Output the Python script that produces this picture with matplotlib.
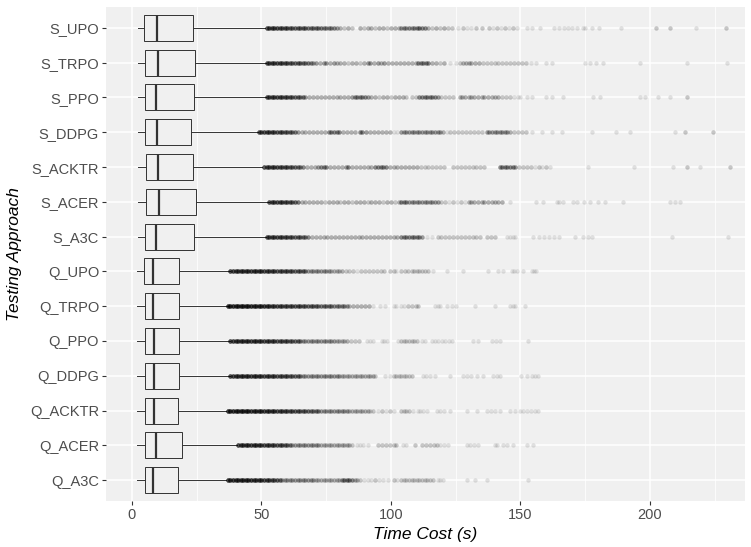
import numpy as np
import matplotlib
matplotlib.use("Agg")
import matplotlib.pyplot as plt

plt.rcParams['font.family'] = ['Liberation Sans', 'DejaVu Sans']

# Categories, bottom to top
APPROACHES = ["Q_A3C", "Q_ACER", "Q_ACKTR", "Q_DDPG", "Q_PPO", "Q_TRPO", "Q_UPO",
              "S_A3C", "S_ACER", "S_ACKTR", "S_DDPG", "S_PPO", "S_TRPO", "S_UPO"]

# Box statistics (seconds), same order as APPROACHES
WHISLO = [1.9, 1.9, 1.9, 2.0, 2.0, 2.0, 2.0, 2.3, 2.2, 2.5, 2.5, 2.3, 2.5, 2.2]
Q1 = [4.9, 5.2, 5.2, 4.9, 4.9, 4.9, 4.6, 5.1, 5.6, 5.6, 5.2, 5.2, 5.2, 4.8]
MED = [8.2, 9.3, 8.6, 8.5, 8.5, 8.1, 8.3, 9.2, 10.4, 10.1, 9.6, 9.2, 10.0, 9.6]
Q3 = [17.9, 19.5, 17.9, 18.3, 18.3, 18.1, 18.2, 24.0, 24.8, 23.7, 22.7, 24.0, 24.2, 23.6]
WHISHI = [36.5, 40.4, 36.5, 37.8, 37.8, 37.3, 37.8, 51.9, 52.9, 50.2, 48.7, 51.9, 51.9, 51.3]

# Outliers: (time cost, number of runs at that value)
S_UPO = [(52,9),(53,9),(54,9),(55,9),(56,9),(57,8),(58,8),(59,8),(60,8),(61,7),(62,7),(63,7),(64,7),(65,7),(66,7),(67,7),(68,6),(69,6),(70,6),(71,6),(72,6),(73,6),(74,5),(75,5),(76,5),(77,5),(78,5),(79,4),(80.5,3),(82,2),(83.5,3),(85,2),(88,3),(89.5,2),(91,3),(92.5,3),(94,2),(95.5,3),(97,3),(98.5,2),(100,3),(101.5,3),(103,3),(104,4),(105,5),(106,4),(107,5),(108,4),(109,5),(110,5),(111,6),(112,5),(113,5),(114.5,3),(116,2),(117.5,3),(119,2),(120.5,3),(122,2),(123.5,2),(126,1),(128,2),(129.5,1),(131,1),(133,2),(135,2),(138,2),(139.5,1),(141,2),(142.5,1),(144,2),(145.5,1),(147,2),(148.7,1),(152.6,1),(154.5,1),(157.7,1),(163,1),(164.8,1),(167,1),(168.5,1),(170,1),(172,1),(174,1),(175,1),(177.7,1),(180.3,1),(189,1),(202.2,2),(207.7,2),(217.7,1),(229.3,2)]
S_TRPO = [(52,9),(53,9),(54,9),(55,9),(56,9),(57,9),(58,8),(59,8),(60,8),(61,7),(62,7),(63,7),(64,7),(65,7),(66,6),(67,6),(68,6),(69,5),(70,4),(71,4),(72.5,3),(74,4),(75,4),(76.5,3),(78,4),(79,3),(80.5,3),(82,3),(83.5,2),(85,3),(86.5,3),(88,2),(89.5,3),(91,4),(92,4),(93.5,3),(95,4),(96,3),(97.5,4),(99,3),(100.5,3),(102,3),(103.5,3),(105,3),(106.5,3),(108,3),(109.5,3),(110.5,5),(111.5,5),(112.5,5),(113.5,5),(114.5,5),(116,3),(117.5,3),(119,2),(120.5,3),(123,1),(125,1),(126.5,2),(128,3),(129,3),(130,3),(131,3),(132.5,3),(134,3),(135.5,2),(137,2),(138.5,2),(140,2),(141.5,2),(143,2),(144.5,2),(146,2),(147.5,2),(149,2),(150.5,2),(152,2),(154,1),(156,1),(160,1),(162,1),(175,1),(177,1),(179,1),(182,1),(196,1),(214.3,1),(229.6,1)]
S_PPO = [(52,9),(53,9),(54,9),(55,9),(56,9),(57,9),(58,8),(59,8),(60,8),(61,8),(62,7),(63,7),(64,7),(65,6),(66,6),(67,4),(68.5,3),(70,3),(71.5,3),(73,3),(74.5,3),(76,3),(77.5,3),(79,3),(80.5,3),(82,3),(83.5,3),(85,4),(86,5),(87,5),(88,5),(89,5),(90,5),(91,4),(92.5,3),(94,3),(95.5,2),(97,3),(98.5,3),(100,2),(101.5,3),(103,3),(104.5,3),(106,2),(108,2),(109.5,2),(111,5),(112,5),(113,5),(114,5),(115,5),(116,5),(117,5),(118,4),(119.5,2),(121,2),(122.5,2),(124,2),(126.5,3),(127.5,3),(128.5,3),(130,3),(131,3),(132,3),(133.5,3),(135,3),(136,3),(137.5,3),(139,3),(140,3),(141.5,3),(143,2),(144.5,2),(146,2),(147.6,1),(149,1),(150,1),(152.6,1),(154.5,1),(160,1),(162,1),(166.6,1),(178,1),(180.7,1),(196,1),(198,1),(203,1),(207.7,1),(214.3,2)]
S_DDPG = [(49,9),(50,9),(51,9),(52,9),(53,9),(54,9),(55,8),(56,8),(57,8),(58,8),(59,7),(60,7),(61,7),(62,6),(63,6),(64,4),(65.5,3),(67,3),(68.5,3),(70,3),(71.5,3),(73,3),(74.5,3),(76,5),(77,5),(78,5),(79,5),(80,5),(81.5,3),(83,3),(84.5,3),(86,3),(88,5),(89,5),(90.5,4),(92,3),(93.5,3),(95,3),(96.5,3),(98,3),(99.5,3),(101,1),(102.5,1),(104,4),(105,4),(106,4),(107,4),(108,4),(109,4),(110,4),(111,4),(112,4),(113,4),(114,4),(115,4),(116,4),(117,4),(118,4),(119,4),(120,3),(121.5,1),(123,2),(124.5,2),(126,2),(127.5,2),(129,2),(130.5,2),(132,2),(133.5,2),(135,2),(137,4),(138,4),(139,4),(140,4),(141,4),(142,4),(143,4),(144,4),(145,4),(146,3),(147.5,2),(149,2),(150.5,2),(152,2),(154.3,1),(158.2,1),(162,1),(166,1),(177.5,1),(187,1),(192.3,1),(209.7,1),(213.5,2),(224.5,2)]
S_ACKTR = [(51,9),(52,9),(53,9),(54,9),(55,9),(56,9),(57,8),(58,8),(59,8),(60,8),(61,7),(62,7),(63,7),(64,6),(65,6),(66,5),(67.5,3),(69,3),(70.5,3),(72,4),(73,5),(74,5),(75,5),(76.5,3),(78,3),(79.5,3),(81,3),(82.5,4),(83.5,5),(85,3),(86.5,3),(88,3),(89.5,3),(91,3),(92.5,3),(94,5),(95,5),(96,5),(97,5),(98,5),(99.5,3),(101,3),(102.5,3),(104,3),(105.5,3),(107,3),(108.5,3),(110,3),(111.5,2),(113,2),(114.5,2),(116,2),(117.5,2),(119,2),(120.5,2),(124,2),(125.5,2),(127,2),(128.5,2),(130,2),(131.5,2),(133,2),(134.5,2),(136,2),(142,5),(143,5),(144,5),(145,5),(146,5),(147,5),(148,4),(149.5,2),(151,2),(152.5,2),(154,2),(155.5,1),(157,2),(158.5,1),(160,2),(161.5,1),(176,1),(194,1),(208.9,1),(214.2,2),(219.3,1),(231,2)]
S_ACER = [(53,9),(54,9),(55,9),(56,9),(57,9),(58,9),(59,8),(60,8),(61,8),(62,7),(63,7),(64,6),(65.5,3),(67,3),(68.5,3),(70,3),(71.5,3),(73,3),(74.5,2),(76,3),(77.5,3),(79,3),(80.5,2),(82,3),(83.5,3),(85,2),(86.5,3),(88,3),(89.5,3),(91,2),(92.5,3),(94,3),(95.5,3),(97,2),(98.5,3),(100,3),(101.5,2),(103,3),(104,5),(105,5),(106,5),(107,4),(108,4),(109,4),(110,4),(111,4),(112,4),(113,4),(114,4),(115,4),(116,4),(117,4),(118,4),(119.5,2),(121,2),(122.5,1),(124,2),(125.5,1),(127,2),(128.5,1),(130,3),(131,3),(132,3),(133.5,3),(135,3),(136,3),(137.5,3),(139,3),(140,3),(141.5,3),(143,3),(146,1),(156.2,1),(158.8,1),(164,1),(165,1),(166.5,1),(170.3,1),(172,1),(174.5,1),(177,1),(180,1),(182.6,1),(189.6,1),(207.7,1),(209.5,1),(211.6,1)]
S_A3C = [(52,9),(53,9),(54,9),(55,9),(56,9),(57,9),(58,8),(59,8),(60,8),(61,8),(62,7),(63,7),(64,7),(65,7),(66,6),(67,6),(68,5),(69.5,3),(71,3),(72.5,3),(74,3),(75.5,3),(77,3),(78.5,3),(80,3),(81.5,3),(83,3),(84.5,3),(86,3),(87.5,3),(89,3),(90.5,3),(92,3),(93.5,3),(95,3),(96.5,3),(98,3),(99.5,3),(101,3),(102.5,3),(104,5),(105,5),(106,5),(107,5),(108,5),(109,5),(110,5),(111,5),(112,4),(114,1),(116,1),(118,2),(119.5,2),(121,2),(122.5,2),(124,2),(125.5,2),(127,2),(128.5,2),(130,2),(131.5,2),(133,2),(134.5,2),(137,2),(138.5,2),(140,2),(144.7,1),(146,1),(147.3,1),(148,1),(155,1),(157,1),(159,1),(161,1),(163,1),(165,1),(171,1),(174.2,1),(176,1),(177.5,1),(208.4,1),(230.2,1)]
Q_UPO = [(38,10),(39,10),(40,10),(41,10),(42,10),(43,10),(44,10),(45,10),(46,10),(47,10),(48,10),(49,10),(50,10),(51,9),(52,9),(53,9),(54,9),(55,9),(56,8),(57,8),(58,8),(59,8),(60,8),(61,8),(62,7),(63,7),(64,7),(65,7),(66,7),(67,6),(68,4),(69,4),(70,4),(71,4),(72,4),(73,4),(74,4),(75,4),(76,4),(77,3),(78,3),(79,3),(80,3),(81,3),(82.5,2),(84,2),(85.5,2),(87,1),(88.5,2),(90,2),(91.5,2),(93,2),(94.5,2),(96,2),(97.5,2),(99.6,2),(101,2),(102,1),(104,2),(105.4,2),(106.5,2),(108,2),(109,2),(110,2),(111,2),(112,2),(113,2),(114.3,2),(116.3,1),(121.5,1),(128,1),(137.6,1),(141.4,1),(143.3,1),(146.6,1),(147.5,1),(148.5,1),(151,1),(154.3,1),(155.3,1),(156.2,1)]
Q_TRPO = [(37,12),(38,12),(39,12),(40,12),(41,12),(42,12),(43,12),(44,12),(45,12),(46,12),(47,11),(48,11),(49,11),(50,11),(51,11),(52,10),(53,10),(54,9),(55,9),(56,9),(57,9),(58,8),(59,8),(60,8),(61,8),(62,8),(63,8),(64,8),(65,8),(66,7),(67,7),(68,7),(69,7),(70,7),(71,7),(72,6),(73,6),(74,6),(75,6),(76,6),(77,6),(78,5),(79,5),(80,5),(81,5),(82,5),(83,4),(84,3),(85.5,3),(87,3),(88.5,3),(90,3),(91.5,3),(93,1),(95.8,1),(97.7,1),(101,1),(102,1),(104,1),(105,1),(106.6,2),(108,2),(109.5,2),(110.5,2),(117,1),(118,1),(119,1),(121.5,1),(123.4,1),(125.3,1),(132.4,1),(140.2,1),(146,1),(147,1),(148,1),(151.7,1)]
Q_PPO = [(38,10),(39,10),(40,10),(41,10),(42,10),(43,10),(44,10),(45,10),(46,10),(47,10),(48,10),(49,10),(50,9),(51,9),(52,9),(53,9),(54,9),(55,9),(56,8),(57,8),(58,8),(59,8),(60,8),(61,7),(62,7),(63,7),(64,7),(65,6),(66,4),(67,4),(68,4),(69,4),(70,4),(71,4),(72,4),(73,4),(74,4),(75,4),(76,4),(77,4),(78,4),(79,3),(80,3),(81,3),(82,3),(83,3),(84.5,2),(86,2),(87.5,2),(90.6,1),(92,1),(93,1),(96.4,1),(97.4,1),(98.3,1),(102.7,1),(104,2),(105,2),(106,2),(107,2),(108,2),(109,2),(110,2),(112,1),(113,1),(115.7,1),(117,1),(118.2,1),(119.6,1),(121,1),(122.5,1),(123.5,1),(131.7,1),(133.6,1),(138.9,1),(140.5,1),(142.1,1),(153,1)]
Q_DDPG = [(38,10),(39,10),(40,10),(41,10),(42,10),(43,10),(44,10),(45,10),(46,10),(47,10),(48,10),(49,10),(50,9),(51,9),(52,9),(53,9),(54,9),(55,9),(56,8),(57,8),(58,8),(59,8),(60,8),(61,7),(62,7),(63,7),(64,7),(65,6),(66,4),(67,4),(68,4),(69,4),(70,4),(71,4),(72,4),(73,4),(74,4),(75,4),(76,4),(77,4),(78,4),(79,4),(80,4),(81,3),(82,3),(83,3),(84,3),(85,3),(86,3),(87,3),(88,3),(89,3),(90,3),(91,3),(92,3),(93,3),(94,2),(97.7,1),(99.6,1),(101,2),(102,2),(103,2),(104,2),(105,2),(106,2),(107,2),(108,2),(112.4,1),(113.5,1),(115,1),(117,1),(122.8,1),(127.8,1),(129.5,1),(131,1),(133.1,1),(135.6,1),(139.4,1),(141,1),(142.1,1),(150.4,1),(152.4,1),(154.3,1),(155.5,1),(156.9,1)]
Q_ACKTR = [(37,12),(38,12),(39,12),(40,12),(41,12),(42,12),(43,12),(44,12),(45,12),(46,11),(47,11),(48,11),(49,11),(50,11),(51,10),(52,10),(53,10),(54,10),(55,10),(56,9),(57,9),(58,9),(59,9),(60,8),(61,8),(62,8),(63,8),(64,8),(65,7),(66,7),(67,7),(68,7),(69,6),(70,6),(71,6),(72,6),(73,4),(74,4),(75,4),(76,4),(77,4),(78,4),(79,4),(80,4),(81,4),(82,4),(83,4),(84,3),(85,3),(86,3),(87,3),(88,3),(89,3),(90,3),(91,3),(92,2),(93,2),(95,1),(96.5,2),(98,1),(99.5,2),(101,1),(104,2),(105,2),(106,2),(107,2),(108.5,1),(110.4,1),(111.2,1),(112.5,1),(113.9,1),(117.6,1),(119,1),(120.5,1),(122.8,1),(129.2,1),(133.1,1),(137,1),(138.5,1),(140,1),(142.1,1),(146,1),(147.9,1),(149.8,1),(151,1),(152.5,1),(154,1),(155.5,1),(156.8,1)]
Q_ACER = [(41,10),(42,10),(43,10),(44,10),(45,10),(46,10),(47,10),(48,10),(49,10),(50,9),(51,9),(52,9),(53,9),(54,9),(55,8),(56,8),(57,8),(58,8),(59,7),(60,7),(61,6),(62,4),(63,4),(64,4),(65,4),(66,4),(67,4),(68,4),(69,4),(70,4),(71,4),(72,4),(73,3),(74,3),(75,3),(76,3),(77,3),(78,3),(79,3),(80,3),(81,3),(82,3),(83,3),(84,3),(85,2),(86.8,1),(88,1),(89.3,1),(91,1),(95,2),(96.5,2),(98,2),(99.5,2),(101,2),(102,2),(104.7,1),(106,1),(109.3,2),(112,2),(113.5,2),(115,2),(116.5,2),(117.6,2),(119,1),(120.5,1),(122,1),(129.2,1),(130.5,1),(132,1),(133.7,1),(140.2,1),(140.8,1),(143.2,1),(145,1),(147.2,1),(152.4,1),(154.9,1)]
Q_A3C = [(37,11),(38,11),(39,11),(40,11),(41,11),(42,11),(43,11),(44,11),(45,11),(46,11),(47,10),(48,10),(49,10),(50,10),(51,9),(52,9),(53,9),(54,8),(55,8),(56,8),(57,7),(58,4),(59,4),(60,4),(61,4),(62,4),(63,4),(64,4),(65,4),(66,4),(67,4),(68,4),(69,4),(70,4),(71,3),(72,3),(73,3),(74,3),(75,3),(76,3),(77,3),(78,3),(79,3),(80,3),(81,5),(82,6),(83,6),(84,6),(85,5),(86,3),(87,3),(88,2),(89.5,1),(91,1),(92.5,1),(94,2),(95.5,1),(97,1),(99,1),(101,2),(102.5,1),(104,2),(105,2),(106,2),(107,2),(108,2),(109,2),(110,2),(111,2),(112,2),(113,2),(114,2),(115,2),(116.3,2),(118.2,1),(119,1),(120,1),(129.2,1),(132.4,1),(137,1),(153,1)]

OUTLIERS = [Q_A3C, Q_ACER, Q_ACKTR, Q_DDPG, Q_PPO, Q_TRPO, Q_UPO,
            S_A3C, S_ACER, S_ACKTR, S_DDPG, S_PPO, S_TRPO, S_UPO]

X_TICKS = [0, 50, 100, 150, 200]
X_LABEL = "Time Cost (s)"
Y_LABEL = "Testing Approach"

PANEL = "#F0F0F0"
DARK = "#333333"

fig = plt.figure(figsize=(7.51, 5.47), dpi=100)
ax = fig.add_axes([106 / 751, 1 - 501 / 547, (745 - 106) / 751, (501 - 7) / 547])
ax.set_facecolor(PANEL)

positions = np.arange(1, len(APPROACHES) + 1)
stats = []
for i, name in enumerate(APPROACHES):
    stats.append(dict(label=name, whislo=WHISLO[i], q1=Q1[i], med=MED[i],
                      q3=Q3[i], whishi=WHISHI[i], fliers=[]))

ax.bxp(stats, positions=positions, widths=0.75, orientation='horizontal',
       showfliers=False, showcaps=False, patch_artist=True,
       boxprops=dict(facecolor=PANEL, edgecolor=DARK, linewidth=0.7),
       medianprops=dict(color=DARK, linewidth=1.6, solid_capstyle='butt'),
       whiskerprops=dict(color=DARK, linewidth=0.7),
       manage_ticks=False, zorder=2)

for pos, pts in zip(positions, OUTLIERS):
    vals = np.array([p[0] for p in pts], dtype=float)
    cnts = np.array([p[1] for p in pts], dtype=int)
    xs = np.repeat(vals, cnts)
    ax.scatter(xs, np.full(xs.shape, pos, dtype=float), s=10, c='black',
               alpha=0.11, linewidths=0, zorder=3)

ax.set_xlim(-10.0, 236.7)
ax.set_ylim(0.4, len(APPROACHES) + 0.6)
ax.set_xticks(X_TICKS)
ax.set_xticks([25, 75, 125, 175, 225], minor=True)
ax.set_yticks(positions)
ax.set_yticklabels(APPROACHES)

ax.set_axisbelow(True)
ax.grid(which='major', color='white', linewidth=1.1)
ax.grid(which='minor', axis='x', color='white', linewidth=0.55)
for s in ax.spines.values():
    s.set_visible(False)

ax.tick_params(which='major', length=3, width=0.8, color=DARK,
               labelcolor='#4D4D4D', labelsize=10.5, pad=2)
ax.tick_params(which='minor', length=0)

ax.set_xlabel(X_LABEL, fontsize=12.5, style='italic', color='black', labelpad=4)
ax.set_ylabel(Y_LABEL, fontsize=12.5, style='italic', color='black', labelpad=6)

fig.savefig("out.png", dpi=100)
